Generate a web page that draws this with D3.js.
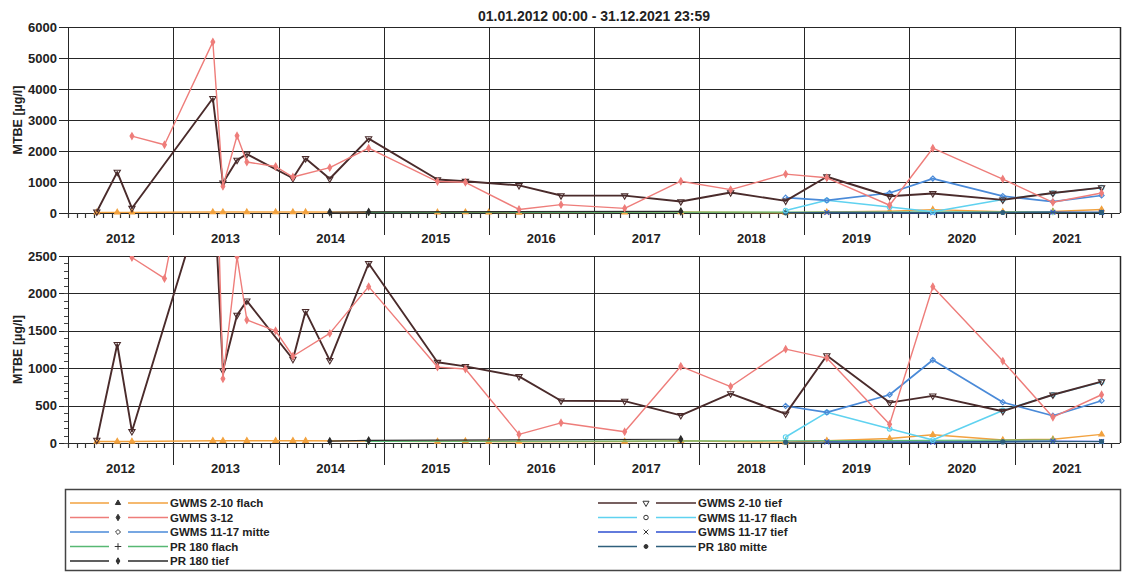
<!DOCTYPE html>
<html>
<head>
<meta charset="utf-8">
<title>MTBE 2012-2021</title>
<style>
body { margin: 0; background: #fff; }
svg { font-family: "Liberation Sans", Arial, sans-serif; font-weight: bold; }
.grid line { stroke: #262626; stroke-width: 1.2; shape-rendering: crispEdges; }
</style>
<script src="https://d3js.org/d3.v7.min.js"></script>
</head>
<body>
<script>
// sampling dates (shared by all series, null = no sample)
var dates = ["2012-04-10","2012-06-20","2012-08-10","2012-12-01","2013-05-18","2013-06-22",
  "2013-08-10","2013-09-13","2013-12-22","2014-02-20","2014-04-05","2014-06-28","2014-11-10",
  "2015-07-07","2015-10-12","2016-01-01","2016-04-15","2016-09-08","2017-04-17","2017-10-29",
  "2018-04-20","2018-10-28","2019-03-20","2019-10-24","2020-03-22","2020-11-20","2021-05-13","2021-10-29"];

var gwms210flach = [20,20,20,null,30,30,null,30,30,30,30,null,null,20,25,20,15,null,20,30,null,10,30,60,110,40,50,115];
var gwms312      = [null,null,2480,2200,5520,860,2490,1645,1500,1160,null,1465,2090,1015,990,null,115,270,150,1025,755,1255,1135,250,2090,1095,345,645];
var gwms1117mitte= [null,null,null,null,null,null,null,null,null,null,null,null,null,null,null,null,null,null,null,null,null,495,410,645,1110,545,365,565];
var pr180flach   = [null,null,null,null,null,null,null,null,null,null,null,null,20,null,null,null,null,null,null,null,null,30,null,null,null,null,40,null];
var pr180tief    = [null,null,null,null,null,null,null,null,null,null,null,25,35,null,null,null,null,null,null,50,null,null,null,null,null,null,null,null];
var gwms210tief  = [40,1320,155,null,3700,970,1710,1900,null,1120,1760,1105,2400,1080,1025,null,890,565,560,370,660,390,1170,540,630,425,645,820];
var gwms1117flach= [null,null,null,null,null,null,null,null,null,null,null,null,null,null,null,null,null,null,null,null,null,80,410,190,40,435,645,815];
var gwms1117tief = [null,null,null,null,null,null,null,null,null,null,null,null,null,null,null,null,null,null,null,null,null,null,15,null,10,null,25,20];
var pr180mitte   = [null,null,null,null,null,null,null,null,null,null,null,null,null,null,null,null,null,null,null,null,null,10,null,null,null,15,null,20];

var years = d3.range(2012, 2022);
var topTicks = [0,1000,2000,3000,4000,5000,6000];
var botTicks = [0,500,1000,1500,2000,2500];
var title = "01.01.2012 00:00 - 31.12.2021 23:59";
var yTitle = "MTBE [µg/l]";

var parse = d3.timeParse("%Y-%m-%d");

// drawing order: small series first, main ones on top
var series = [
  {name: "GWMS 2-10 flach",   v: gwms210flach,  color: "#f2a23f", sym: d3.symbolTriangle, fill: true,  col: 0, row: 0, w: 1.4},
  {name: "PR 180 flach",      v: pr180flach,    color: "#57b873", sym: d3.symbolPlus,     fill: false, col: 0, row: 3, w: 1.2},
  {name: "PR 180 tief",       v: pr180tief,     color: "#2a2a2a", sym: d3.symbolDiamond,  fill: true,  col: 0, row: 4, w: 1.2},
  {name: "GWMS 11-17 tief",   v: gwms1117tief,  color: "#2e4fd0", sym: d3.symbolTimes,    fill: false, col: 1, row: 2, w: 1.4},
  {name: "PR 180 mitte",      v: pr180mitte,    color: "#2f5f7c", sym: d3.symbolCircle,   fill: true,  col: 1, row: 3, w: 1.2},
  {name: "GWMS 11-17 flach",  v: gwms1117flach, color: "#5fd2f0", sym: d3.symbolCircle,   fill: false, col: 1, row: 1, w: 1.5},
  {name: "GWMS 11-17 mitte",  v: gwms1117mitte, color: "#4a8ad8", sym: d3.symbolDiamond2, fill: false, col: 0, row: 2, w: 1.7},
  {name: "GWMS 2-10 tief",    v: gwms210tief,   color: "#4a2b2b", sym: "down",            fill: false, col: 1, row: 0, w: 1.9},
  {name: "GWMS 3-12",         v: gwms312,       color: "#ee7d7a", sym: d3.symbolDiamond,  fill: true,  col: 0, row: 1, w: 1.4}
];

var W = 1122, H = 575;
var left = 68, right = 1120;
var x = d3.scaleTime().domain([new Date(2012,0,1), new Date(2022,0,1)]).range([left, right]);

var svg = d3.select("body").append("svg").attr("width", W).attr("height", H);

svg.append("text")
  .attr("x", 594).attr("y", 21)
  .attr("text-anchor", "middle")
  .attr("font-size", "14px")
  .attr("fill", "#222")
  .text(title);

function symbolPath(s, size) {
  if (s === "down") return d3.symbol(d3.symbolTriangle, size)();
  return d3.symbol(s, size)();
}

function panel(yTop, yBot, maxV, ticks, minorStep, clipId) {
  var y = d3.scaleLinear().domain([0, maxV]).range([yBot, yTop]);
  var g = svg.append("g");

  // clip for values going off scale
  svg.append("clipPath").attr("id", clipId)
    .append("rect").attr("x", left).attr("y", yTop).attr("width", right - left).attr("height", yBot - yTop + 6);

  var grid = g.append("g").attr("class", "grid");
  grid.selectAll("line.h").data(ticks).enter().append("line")
    .attr("x1", left - 9).attr("x2", right)
    .attr("y1", function(d) { return Math.round(y(d)) + 0.5; })
    .attr("y2", function(d) { return Math.round(y(d)) + 0.5; });

  // year separators reach down through the label row
  grid.selectAll("line.v").data(years.concat([2022])).enter().append("line")
    .attr("x1", function(d) { return Math.round(x(new Date(d,0,1))) + 0.5; })
    .attr("x2", function(d) { return Math.round(x(new Date(d,0,1))) + 0.5; })
    .attr("y1", yTop)
    .attr("y2", function(d) { return (d == 2012 || d == 2022) ? yBot : yBot + 22; });

  // monthly ticks
  var months = d3.timeMonth.range(new Date(2012,0,1), new Date(2022,0,1));
  g.selectAll("line.m").data(months).enter().append("line")
    .attr("x1", function(d) { return Math.round(x(d)) + 0.5; })
    .attr("x2", function(d) { return Math.round(x(d)) + 0.5; })
    .attr("y1", yBot).attr("y2", yBot + 5)
    .attr("stroke", "#333").attr("stroke-width", 1.2);

  // minor y ticks
  if (minorStep) {
    g.selectAll("line.ym").data(d3.range(0, maxV, minorStep)).enter().append("line")
      .attr("x1", left - 4).attr("x2", left)
      .attr("y1", function(d) { return Math.round(y(d)) + 0.5; })
      .attr("y2", function(d) { return Math.round(y(d)) + 0.5; })
      .attr("stroke", "#444");
  }

  g.selectAll("text.yl").data(ticks).enter().append("text")
    .attr("x", 57).attr("y", function(d) { return y(d); })
    .attr("dy", "0.36em")
    .attr("text-anchor", "end")
    .attr("font-size", "13px")
    .attr("fill", "#222")
    .text(function(d) { return d; });

  g.selectAll("text.yr").data(years).enter().append("text")
    .attr("x", function(d) { return x(new Date(d,6,1)); })
    .attr("y", yBot + 30)
    .attr("text-anchor", "middle")
    .attr("font-size", "13px")
    .attr("fill", "#222")
    .text(function(d) { return d; });

  g.append("text")
    .attr("transform", "translate(22," + ((yTop + yBot) / 2) + ") rotate(-90)")
    .attr("text-anchor", "middle")
    .attr("font-size", "12.5px")
    .attr("fill", "#222")
    .text(yTitle);

  var plot = g.append("g").attr("clip-path", "url(#" + clipId + ")");
  var line = d3.line()
    .x(function(d) { return x(d.date); })
    .y(function(d) { return y(d.value); });

  series.forEach(function(s) {
    var pts = [];
    s.v.forEach(function(val, i) {
      if (val != null) pts.push({date: parse(dates[i]), value: val});
    });
    plot.append("path")
      .datum(pts)
      .attr("fill", "none")
      .attr("stroke", s.color)
      .attr("stroke-width", s.w)
      .attr("stroke-linejoin", "round")
      .attr("d", line);
    plot.selectAll(null).data(pts).enter().append("path")
      .attr("transform", function(d) {
        return "translate(" + x(d.date) + "," + y(d.value) + ")" + (s.sym === "down" ? " rotate(180)" : "");
      })
      .attr("d", symbolPath(s.sym, s.fill ? 13 : 17))
      .attr("fill", s.fill ? s.color : "none")
      .attr("stroke", s.color)
      .attr("stroke-width", 1.1);
  });
}

panel(27, 213, 6000, topTicks, null, "clipTop");
panel(256, 443, 2500, botTicks, 100, "clipBot");

// right border
svg.append("line").attr("x1", right + 0.5).attr("x2", right + 0.5).attr("y1", 27).attr("y2", 213)
  .attr("stroke", "#262626").attr("stroke-width", 1.5);
svg.append("line").attr("x1", right + 0.5).attr("x2", right + 0.5).attr("y1", 256).attr("y2", 443)
  .attr("stroke", "#262626").attr("stroke-width", 1.5);

// legend
var lg = svg.append("g");
lg.append("rect")
  .attr("x", 65.5).attr("y", 489.5).attr("width", 1055).attr("height", 81)
  .attr("fill", "none").attr("stroke", "#444").attr("stroke-width", 1.5);

var colX = [70, 598];
var items = lg.selectAll("g.item").data(series).enter().append("g")
  .attr("transform", function(d) { return "translate(" + colX[d.col] + "," + (503 + d.row * 14.5) + ")"; });
items.append("line").attr("x1", 0).attr("x2", 39)
  .attr("stroke", function(d) { return d.color; }).attr("stroke-width", 1.5);
items.append("line").attr("x1", 58).attr("x2", 98)
  .attr("stroke", function(d) { return d.color; }).attr("stroke-width", 1.5);
items.append("path")
  .attr("transform", function(d) { return "translate(48,0)" + (d.sym === "down" ? " rotate(180)" : ""); })
  .attr("d", function(d) { return symbolPath(d.sym, d.fill ? 12 : 16); })
  .attr("fill", function(d) { return d.fill ? "#333" : "none"; })
  .attr("stroke", "#333").attr("stroke-width", 1);
items.append("text")
  .attr("x", 100).attr("dy", "0.36em")
  .attr("font-size", "11.5px")
  .attr("fill", "#222")
  .text(function(d) { return d.name; });
</script>
</body>
</html>
